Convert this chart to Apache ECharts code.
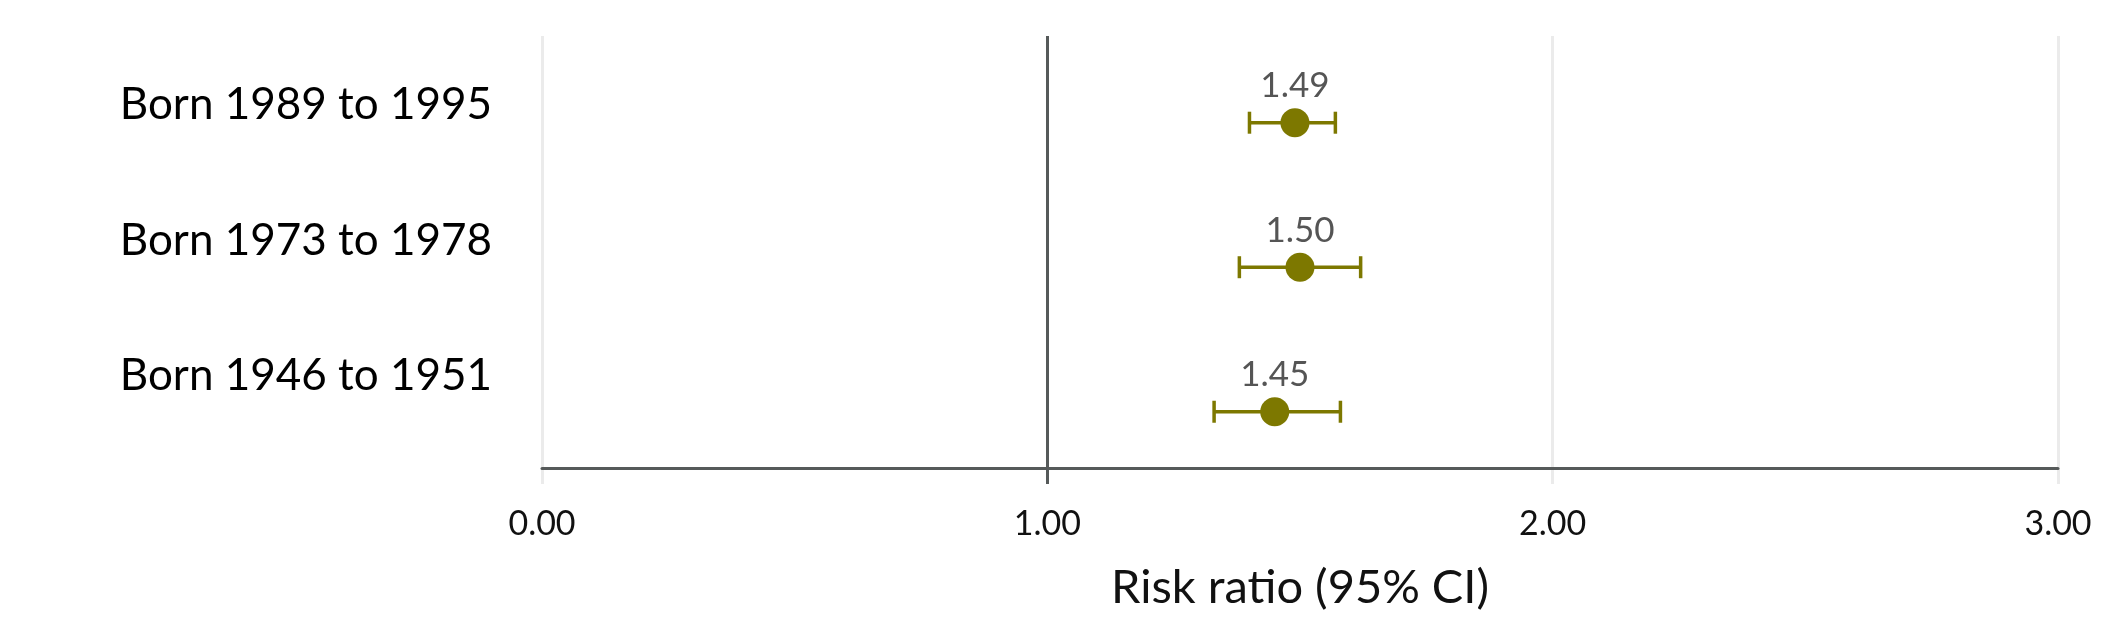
<!DOCTYPE html>
<html>
<head>
<meta charset="utf-8">
<script src="https://cdn.jsdelivr.net/npm/echarts@6/dist/echarts.min.js"></script>
<style>
  html, body { margin: 0; padding: 0; background: #ffffff; }
  #main { width: 2126px; height: 635px; }
</style>
</head>
<body>
<div id="main"></div>
<script>
// data, listed bottom row first
const cohorts = ['Born 1946 to 1951', 'Born 1973 to 1978', 'Born 1989 to 1995'];
const riskRatio = [1.45, 1.50, 1.49];
const ciLow = [1.33, 1.38, 1.40];
const ciHigh = [1.58, 1.62, 1.57];
const xTicks = [0, 1, 2, 3];
const refValue = 1;

const olive = '#7d7800';
const darkGrey = '#565a5a';
const fontFamily = 'Lato, "Noto Sans", sans-serif';

const chart = echarts.init(document.getElementById('main'));

const pointData = riskRatio.map((v, i) => [v, i]);
const barData = riskRatio.map((v, i) => [ciLow[i], ciHigh[i], i]);

const option = {
  backgroundColor: '#ffffff',
  animation: false,
  textStyle: { fontFamily: fontFamily },
  grid: [
    // plot area
    { left: 542, right: 68, top: 36, bottom: 151 },
    // band used only for the row labels
    { left: 542, right: 68, top: 37, height: 407 }
  ],
  xAxis: [
    {
      gridIndex: 0,
      type: 'value',
      min: xTicks[0],
      max: xTicks[xTicks.length - 1],
      interval: 1,
      offset: -16,
      axisLine: { show: true, onZero: false, lineStyle: { color: darkGrey, width: 3 } },
      axisTick: { show: false },
      splitLine: { show: true, lineStyle: { color: '#ebebeb', width: 3 } },
      axisLabel: {
        formatter: v => v.toFixed(2),
        fontSize: 34,
        color: '#111111',
        margin: 39
      },
      name: 'Risk ratio (95% CI)',
      nameLocation: 'middle',
      nameGap: 96,
      nameTextStyle: { fontSize: 47, color: '#111111' }
    },
    { gridIndex: 1, type: 'value', show: false }
  ],
  yAxis: [
    { gridIndex: 0, type: 'value', min: -0.5, max: 2.6, show: false },
    {
      gridIndex: 1,
      type: 'category',
      data: cohorts,
      axisLine: { show: false },
      axisTick: { show: false },
      splitLine: { show: false },
      axisLabel: { fontSize: 44, color: '#000000', margin: 50 }
    }
  ],
  series: [
    {
      type: 'custom',
      xAxisIndex: 0,
      yAxisIndex: 0,
      data: barData,
      encode: { x: [0, 1], y: 2 },
      z: 3,
      renderItem: function (params, api) {
        const y = api.value(2);
        const lo = api.coord([api.value(0), y]);
        const hi = api.coord([api.value(1), y]);
        const cap = 11;
        const style = { stroke: olive, lineWidth: 3.5 };
        return {
          type: 'group',
          children: [
            { type: 'line', shape: { x1: lo[0], y1: lo[1], x2: hi[0], y2: hi[1] }, style: style },
            { type: 'line', shape: { x1: lo[0], y1: lo[1] - cap, x2: lo[0], y2: lo[1] + cap }, style: style },
            { type: 'line', shape: { x1: hi[0], y1: hi[1] - cap, x2: hi[0], y2: hi[1] + cap }, style: style }
          ]
        };
      }
    },
    {
      type: 'scatter',
      xAxisIndex: 0,
      yAxisIndex: 0,
      data: pointData,
      symbol: 'circle',
      symbolSize: 29,
      z: 4,
      itemStyle: { color: olive, opacity: 1 },
      label: {
        show: true,
        position: 'top',
        distance: 5,
        formatter: p => p.value[0].toFixed(2),
        fontSize: 35,
        color: '#555555'
      },
      markLine: {
        silent: true,
        symbol: 'none',
        label: { show: false },
        lineStyle: { color: darkGrey, width: 3, type: 'solid' },
        data: [{ xAxis: refValue }]
      }
    }
  ]
};

chart.setOption(option);
</script>
</body>
</html>
